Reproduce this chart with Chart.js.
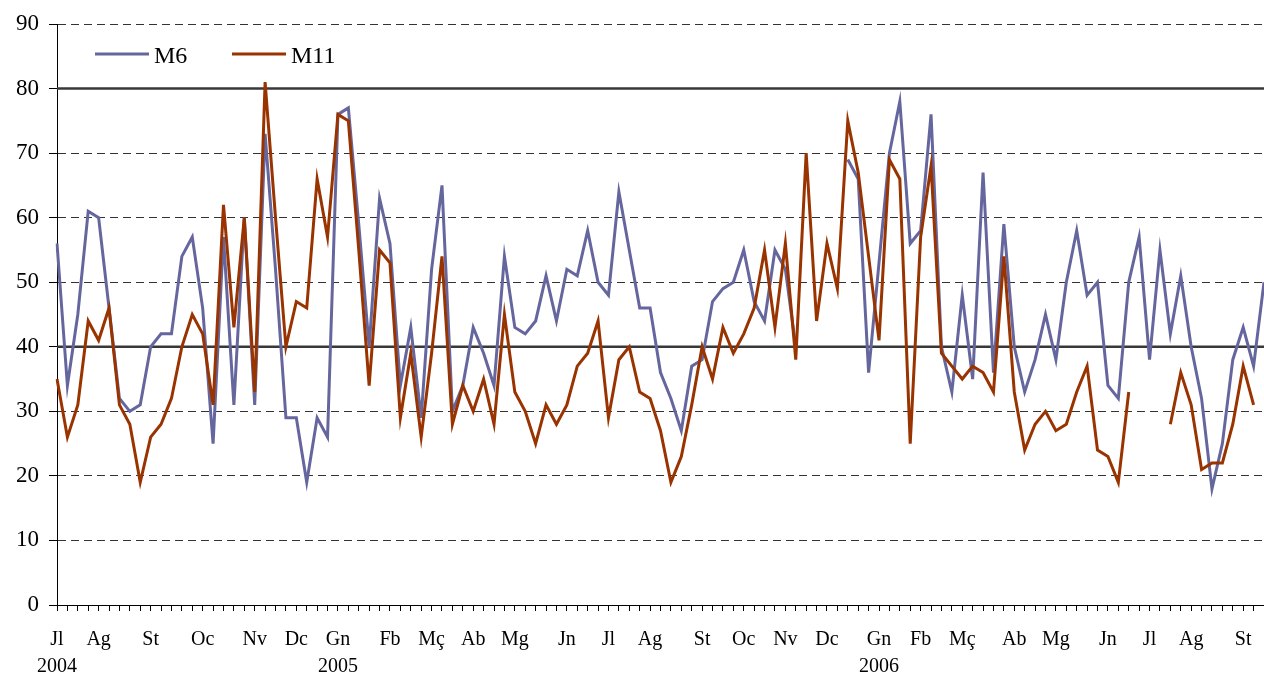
<!DOCTYPE html>
<html>
<head>
<meta charset="utf-8">
<script src="https://cdn.jsdelivr.net/npm/chart.js@4.4.1/dist/chart.umd.min.js"></script>
<style>
  html, body { margin: 0; padding: 0; background: #fff; }
  canvas { display: block; }
</style>
</head>
<body>
<canvas id="c" width="1264" height="674"></canvas>
<script>
// ---- data ----
const weekCount = 117;
const monthNames = ['Jl','Ag','St','Oc','Nv','Dc','Gn','Fb','Mç','Ab','Mg','Jn','Jl','Ag','St','Oc','Nv','Dc','Gn','Fb','Mç','Ab','Mg','Jn','Jl','Ag','St'];
const monthStartWeek = [0,4,9,14,19,23,27,32,36,40,44,49,53,57,62,66,70,74,79,83,87,92,96,101,105,109,114];
const yearNames = ['2004','2005','2006'];
const yearStartWeek = [0,27,79];

const m6 = [
  56,34,45,61,60,46,32,30,31,40,
  42,42,54,57,46,25,57,31,60,31,
  73,52,29,29,19,29,26,76,77,59,
  40,63,56,34,43,29,52,65,30,34,
  43,39,34,54,43,42,44,51,44,52,
  51,58,50,48,64,55,46,46,36,32,
  27,37,38,47,49,50,55,47,44,55,
  52,40,null,null,null,null,69,66,36,53,
  70,78,56,58,76,40,33,48,35,67,
  36,59,40,33,38,45,38,50,58,48,
  50,34,32,50,57,38,55,42,51,40,
  32,18,25,38,43,37,50
];
const m11 = [
  35,26,31,44,41,46,31,28,19,26,
  28,32,40,45,42,31,62,43,60,33,
  81,60,40,47,46,66,57,76,75,55,
  34,55,53,29,39,26,39,54,28,34,
  30,35,28,45,33,30,25,31,28,31,
  37,39,44,29,38,40,33,32,27,19,
  23,31,40,35,43,39,42,46,55,43,
  56,38,70,44,56,49,75,67,54,41,
  69,66,25,57,68,39,37,35,37,36,
  33,54,33,24,28,30,27,28,33,37,
  24,23,19,33,null,null,null,28,36,31,
  21,22,22,28,37,31,null
];
const refLines = [40, 80];
const yTickStep = 10;
const yMin = 0, yMax = 90;

// ---- labels ----
const labels = [];
for (let i = 0; i < weekCount; i++) labels.push('');
monthStartWeek.forEach((w, k) => { labels[w] = monthNames[k]; });
yearStartWeek.forEach((w, k) => { labels[w] = [labels[w], yearNames[k]]; });

const FONT = "'Liberation Serif', 'Times New Roman', serif";
Chart.defaults.font.family = FONT;
Chart.defaults.color = '#000';

const refLinePlugin = {
  id: 'refLines',
  beforeDatasetsDraw(chart) {
    const { ctx, chartArea } = chart;
    const y = chart.scales.y;
    ctx.save();
    ctx.strokeStyle = '#383838';
    ctx.lineWidth = 2.6;
    ctx.setLineDash([]);
    refLines.forEach(v => {
      const py = y.getPixelForValue(v);
      ctx.beginPath();
      ctx.moveTo(chartArea.left, py);
      ctx.lineTo(chartArea.right, py);
      ctx.stroke();
    });
    ctx.restore();
  }
};

const legendPlugin = {
  id: 'innerLegend',
  afterDatasetsDraw(chart) {
    const { ctx } = chart;
    const items = [
      { ds: chart.data.datasets[0], x: 95 },
      { ds: chart.data.datasets[1], x: 232 }
    ];
    const yMid = 54;
    ctx.save();
    items.forEach(it => {
      ctx.strokeStyle = it.ds.borderColor;
      ctx.lineWidth = 3;
      ctx.beginPath();
      ctx.moveTo(it.x, yMid);
      ctx.lineTo(it.x + 54, yMid);
      ctx.stroke();
      ctx.fillStyle = '#000';
      ctx.font = "24px " + FONT;
      ctx.textBaseline = 'alphabetic';
      ctx.textAlign = 'left';
      ctx.fillText(it.ds.label, it.x + 59, yMid + 9);
    });
    ctx.restore();
  }
};

new Chart(document.getElementById('c'), {
  type: 'line',
  data: {
    labels: labels,
    datasets: [
      { label: 'M6', data: m6, borderColor: '#66669e', backgroundColor: '#66669e',
        borderWidth: 3, pointRadius: 0, tension: 0, spanGaps: false, order: 1,
        borderJoinStyle: 'miter' },
      { label: 'M11', data: m11, borderColor: '#993300', backgroundColor: '#993300',
        borderWidth: 3, pointRadius: 0, tension: 0, spanGaps: false, order: 0,
        borderJoinStyle: 'miter' }
    ]
  },
  options: {
    responsive: false,
    animation: false,
    devicePixelRatio: 1,
    layout: { padding: { top: 24, right: 0, left: 0, bottom: 0 } },
    plugins: { legend: { display: false }, tooltip: { enabled: false } },
    scales: {
      x: {
        type: 'category',
        offset: false,
        grid: { display: true, drawOnChartArea: false, drawTicks: true, tickLength: 6,
                tickColor: '#000', color: '#000', lineWidth: 1 },
        border: { display: true, color: '#000', width: 1 },
        ticks: { autoSkip: false, maxRotation: 0, minRotation: 0, padding: 15,
                 color: '#000', font: { size: 20, lineHeight: 1.35 } },
        afterFit(s) { s.height = 69; s.paddingRight = 0; }
      },
      y: {
        min: yMin, max: yMax,
        ticks: { stepSize: yTickStep, padding: 10, color: '#000', font: { size: 23 } },
        grid: { color: '#333', lineWidth: 1, drawTicks: true, tickLength: 8, tickColor: '#000' },
        border: { display: true, color: '#000', width: 1, dash: [8, 5] },
        afterFit(s) { s.width = 57; }
      }
    }
  },
  plugins: [refLinePlugin, legendPlugin]
});
</script>
</body>
</html>
